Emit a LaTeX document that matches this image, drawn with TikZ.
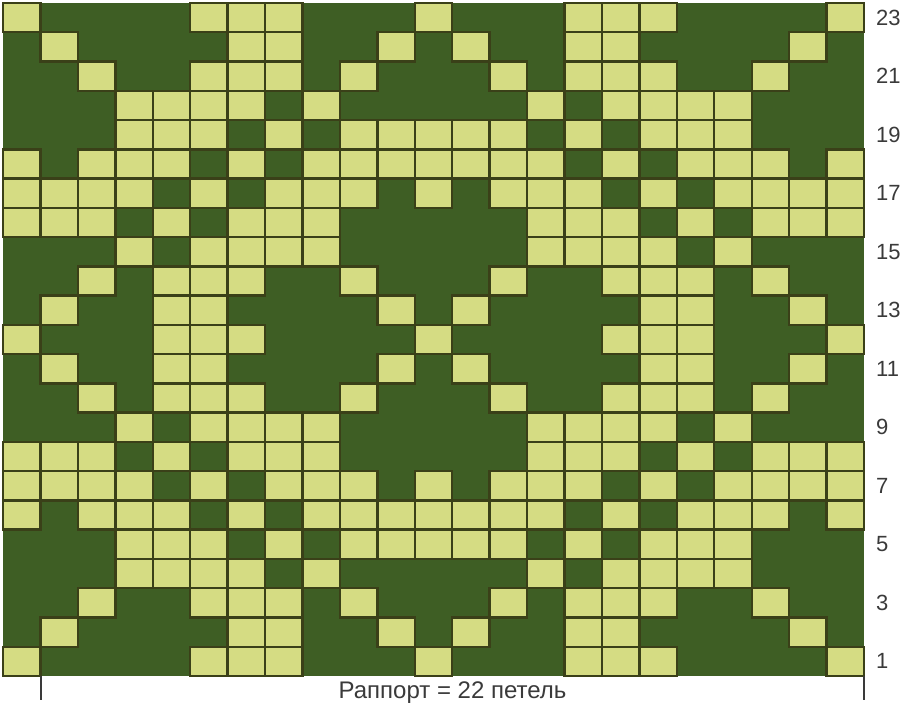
\documentclass[tikz,border=0pt]{standalone}
\usepackage{fontspec}
\setmainfont{Liberation Sans}
\definecolor{darkg}{HTML}{3E5E24}
\definecolor{lightg}{HTML}{D5DC83}
\definecolor{gridc}{HTML}{3A4018}
\definecolor{txtc}{HTML}{3A3A3A}
\begin{document}
\begin{tikzpicture}[x=1pt,y=1pt,
  cell/.style={fill=lightg,draw=gridc,line width=2.4pt},
  rowlbl/.style={text=txtc,font=\fontsize{22}{25}\selectfont,anchor=west,inner sep=0pt},
  tick/.style={draw=txtc,line width=1.3pt}]
\useasboundingbox (0,0) rectangle (922,714);
\def\cw{37.435}
\def\ch{29.26}
\fill[darkg] (3,38) rectangle (864,711);
\foreach \r/\cols in {
 23/{1,6,7,8,12,16,17,18,23},
 22/{2,7,8,11,13,16,17,22},
 21/{3,6,7,8,10,14,16,17,18,21},
 20/{4,5,6,7,9,15,17,18,19,20},
 19/{4,5,6,8,10,11,12,13,14,16,18,19,20},
 18/{1,3,4,5,7,9,10,11,12,13,14,15,17,19,20,21,23},
 17/{1,2,3,4,6,8,9,10,12,14,15,16,18,20,21,22,23},
 16/{1,2,3,5,7,8,9,15,16,17,19,21,22,23},
 15/{4,6,7,8,9,15,16,17,18,20},
 14/{3,5,6,7,10,14,17,18,19,21},
 13/{2,5,6,11,13,18,19,22},
 12/{1,5,6,7,12,17,18,19,23},
 11/{2,5,6,11,13,18,19,22},
 10/{3,5,6,7,10,14,17,18,19,21},
 9/{4,6,7,8,9,15,16,17,18,20},
 8/{1,2,3,5,7,8,9,15,16,17,19,21,22,23},
 7/{1,2,3,4,6,8,9,10,12,14,15,16,18,20,21,22,23},
 6/{1,3,4,5,7,9,10,11,12,13,14,15,17,19,20,21,23},
 5/{4,5,6,8,10,11,12,13,14,16,18,19,20},
 4/{4,5,6,7,9,15,17,18,19,20},
 3/{3,6,7,8,10,14,16,17,18,21},
 2/{2,7,8,11,13,16,17,22},
 1/{1,6,7,8,12,16,17,18,23}} {
  \foreach \c in \cols {
    \draw[cell] ({3+(\c-1)*\cw},{38+(\r-1)*\ch}) rectangle ++(\cw,\ch);
  }
}
\foreach \r in {1,3,...,23} {
  \node[rowlbl] (lbl\r) at (876,{38+(\r-0.5)*\ch}) {\r};
}
\coordinate (tlA) at (41,38);
\coordinate (tlB) at (41,14);
\coordinate (trA) at (864,38);
\coordinate (trB) at (864,14);
\draw[tick] (tlA) -- (tlB);
\draw[tick] (trA) -- (trB);
\node[text=txtc,font=\fontsize{24}{27}\selectfont,inner sep=0pt] (rapport) at (452.5,21) {Раппорт = 22 петель};
\end{tikzpicture}
\end{document}
